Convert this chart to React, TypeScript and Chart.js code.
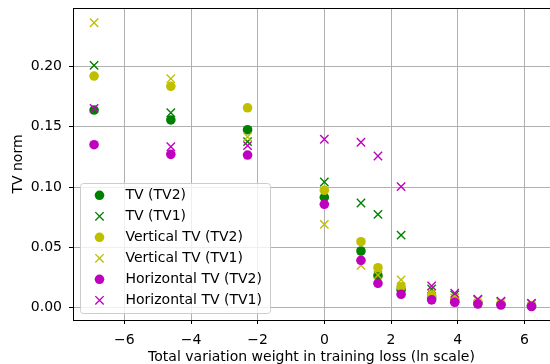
import React, { useEffect, useRef } from "react";
import { Chart, registerables } from "chart.js";

Chart.register(...registerables);

// x positions: ln(weight) of the training-loss TV weight
const lnWeights = [-6.908, -4.605, -2.303, 0, 1.099, 1.609, 2.303, 3.219, 3.912, 4.605, 5.298, 6.215];

const tvTV2 = [0.1638, 0.1556, 0.1475, 0.0915, 0.047, 0.0265, 0.0147, 0.0085, 0.0055, 0.004, 0.003, 0.0016];
const tvTV1 = [0.2009, 0.1616, 0.1376, 0.1042, 0.0868, 0.0774, 0.0602, 0.0155, 0.0105, 0.0065, 0.0048, 0.0035];
const verticalTV2 = [0.192, 0.1835, 0.1657, 0.0973, 0.0547, 0.0331, 0.0174, 0.0105, 0.0065, 0.0045, 0.0032, 0.0018];
const verticalTV1 = [0.2362, 0.1898, 0.1417, 0.0691, 0.0351, 0.027, 0.023, 0.012, 0.008, 0.0068, 0.005, 0.0035];
const horizontalTV2 = [0.1351, 0.1271, 0.1265, 0.0857, 0.0393, 0.0202, 0.0111, 0.0065, 0.0045, 0.003, 0.0022, 0.001];
const horizontalTV1 = [0.1652, 0.1334, 0.1343, 0.1396, 0.1371, 0.1257, 0.1003, 0.018, 0.012, 0.007, 0.0055, 0.0035];

const seriesLabels = [
  "TV (TV2)",
  "TV (TV1)",
  "Vertical TV (TV2)",
  "Vertical TV (TV1)",
  "Horizontal TV (TV2)",
  "Horizontal TV (TV1)",
];

const xTicks = [-6, -4, -2, 0, 2, 4, 6];
const yTicks = [0, 0.05, 0.1, 0.15, 0.2];

const xTitle = "Total variation weight in training loss (ln scale)";
const yTitle = "TV norm";

const GREEN = "#008000";
const YELLOW = "#bfbf00";
const MAGENTA = "#bf00bf";
const FONT = "'DejaVu Sans', sans-serif";
const FS = 14;

const DOT_R = 4.8;
const CROSS_R = 5.9;
const CROSS_W = 1.4;

function pts(ys: number[]) {
  return lnWeights.map((x, i) => ({ x, y: ys[i] }));
}

function dotDs(label: string, ys: number[], color: string, order: number) {
  return {
    label,
    data: pts(ys),
    pointStyle: "circle",
    pointRadius: DOT_R,
    pointBackgroundColor: color,
    pointBorderWidth: 0,
    borderColor: color,
    backgroundColor: color,
    showLine: false,
    order,
  };
}
function crossDs(label: string, ys: number[], color: string, order: number) {
  return {
    label,
    data: pts(ys),
    pointStyle: "crossRot",
    pointRadius: CROSS_R,
    pointBorderColor: color,
    pointBorderWidth: CROSS_W,
    borderColor: color,
    backgroundColor: color,
    showLine: false,
    order,
  };
}

const zeroPad = () => ({ left: 0, top: 0, right: 0, bottom: 0 });

const overlayPlugin = {
  id: "mplOverlay",
  afterDraw(chart: any) {
    const ctx: CanvasRenderingContext2D = chart.ctx;
    const { left, right, top, bottom } = chart.chartArea;
    ctx.save();
    // top spine
    ctx.strokeStyle = "#000";
    ctx.lineWidth = 1;
    ctx.beginPath();
    ctx.moveTo(left, Math.round(top) + 0.5);
    ctx.lineTo(right, Math.round(top) + 0.5);
    ctx.stroke();

    // legend (lower left, inside axes)
    const x0 = Math.round(left + 7) + 0.5;
    const h = 130;
    const w = 190;
    const y0 = Math.round(bottom - 7 - h) + 0.5;
    ctx.beginPath();
    (ctx as any).roundRect(x0, y0, w, h, 3);
    ctx.fillStyle = "rgba(255,255,255,0.8)";
    ctx.fill();
    ctx.strokeStyle = "#cccccc";
    ctx.lineWidth = 1;
    ctx.stroke();

    ctx.font = `${FS}px ${FONT}`;
    ctx.textBaseline = "middle";
    ctx.textAlign = "left";
    chart.data.datasets.forEach((ds: any, i: number) => {
      const cy = y0 + 11.8 + i * 21;
      const mx = x0 + 19;
      const color = ds.borderColor;
      if (ds.pointStyle === "circle") {
        ctx.beginPath();
        ctx.arc(mx, cy, DOT_R, 0, Math.PI * 2);
        ctx.fillStyle = color;
        ctx.fill();
      } else {
        const d = CROSS_R * Math.SQRT1_2;
        ctx.beginPath();
        ctx.moveTo(mx - d, cy - d);
        ctx.lineTo(mx + d, cy + d);
        ctx.moveTo(mx - d, cy + d);
        ctx.lineTo(mx + d, cy - d);
        ctx.strokeStyle = color;
        ctx.lineWidth = CROSS_W;
        ctx.stroke();
      }
      ctx.fillStyle = "#000";
      ctx.fillText(ds.label, x0 + 45, cy + 0.5);
    });
    ctx.restore();
  },
};

export default function App() {
  const ref = useRef<HTMLCanvasElement | null>(null);
  useEffect(() => {
    if (!ref.current) return;
    Chart.defaults.font.family = FONT;
    Chart.defaults.font.size = FS;
    Chart.defaults.color = "#000";
    const chart = new Chart(ref.current, {
      type: "scatter",
      data: {
        datasets: [
          dotDs(seriesLabels[0], tvTV2, GREEN, 6),
          crossDs(seriesLabels[1], tvTV1, GREEN, 5),
          dotDs(seriesLabels[2], verticalTV2, YELLOW, 4),
          crossDs(seriesLabels[3], verticalTV1, YELLOW, 3),
          dotDs(seriesLabels[4], horizontalTV2, MAGENTA, 2),
          crossDs(seriesLabels[5], horizontalTV1, MAGENTA, 1),
        ] as any,
      },
      options: {
        animation: false,
        responsive: false,
        devicePixelRatio: 1,
        layout: { autoPadding: false, padding: { left: 0, right: 0, top: 8, bottom: 0 } },
        plugins: {
          legend: { display: false },
          tooltip: { enabled: false },
        },
        scales: {
          x: {
            type: "linear",
            min: -7.54,
            max: 6.77,
            afterBuildTicks: (s: any) => {
              s.ticks = xTicks.map((v) => ({ value: v }));
            },
            afterFit: (s: any) => {
              s.height = 44;
              s.paddingLeft = 0;
              s.paddingRight = 0;
              s.getPadding = zeroPad;
            },
            ticks: {
              autoSkip: false,
              maxRotation: 0,
              padding: 7.5,
              color: "#000",
              font: { family: FONT, size: FS },
              callback: (v: any) => (v < 0 ? "\u2212" + Math.abs(v) : String(v)),
            },
            grid: {
              color: "#b0b0b0",
              lineWidth: 1,
              tickColor: "#000",
              tickLength: 4,
              drawTicks: true,
            },
            border: { display: true, color: "#000", width: 1 },
            title: {
              display: true,
              text: xTitle,
              color: "#000",
              font: { family: FONT, size: FS, lineHeight: 1 },
              padding: { top: 0, bottom: 0 },
            },
          },
          y: {
            type: "linear",
            min: -0.0102,
            max: 0.2484,
            afterBuildTicks: (s: any) => {
              s.ticks = yTicks.map((v) => ({ value: v }));
            },
            afterFit: (s: any) => {
              s.width = 73;
              s.paddingTop = 0;
              s.paddingBottom = 0;
              s.getPadding = zeroPad;
            },
            ticks: {
              autoSkip: false,
              padding: 7,
              color: "#000",
              font: { family: FONT, size: FS },
              callback: (v: any) => Number(v).toFixed(2),
            },
            grid: {
              color: "#b0b0b0",
              lineWidth: 1,
              tickColor: "#000",
              tickLength: 4,
              drawTicks: true,
            },
            border: { display: true, color: "#000", width: 1 },
            title: {
              display: true,
              text: yTitle,
              color: "#000",
              font: { family: FONT, size: FS, lineHeight: 1 },
              padding: { top: 11, bottom: 0 },
            },
          },
        },
      } as any,
      plugins: [overlayPlugin],
    });
    return () => chart.destroy();
  }, []);
  return (
    <div style={{ position: "absolute", left: 0, top: 0, width: 550, height: 364, background: "#fff" }}>
      <canvas ref={ref} width={550} height={364} style={{ display: "block" }} />
    </div>
  );
}
